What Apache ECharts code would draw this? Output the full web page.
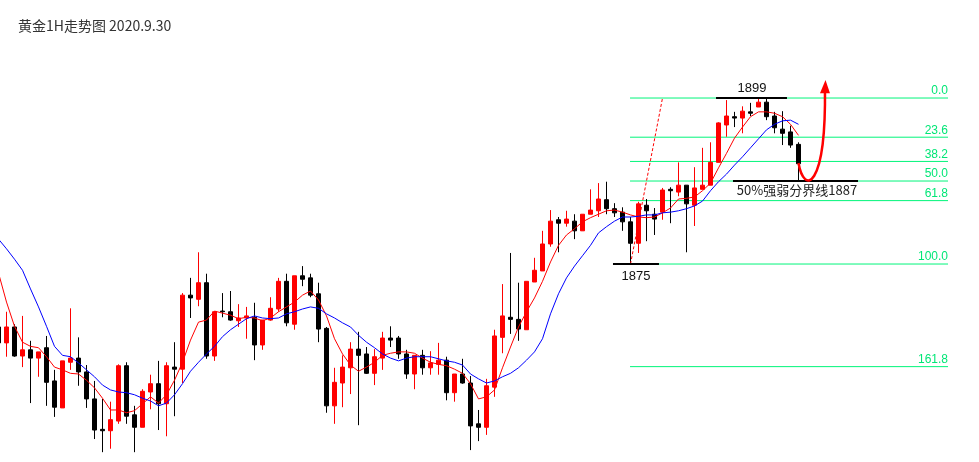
<!DOCTYPE html>
<html><head><meta charset="utf-8">
<script src="https://cdn.jsdelivr.net/npm/echarts@6/dist/echarts.min.js"></script>
<style>html,body{margin:0;padding:0;background:#fff}#c{width:979px;height:462px}</style>
</head><body><div id="c"></div>
<script>
// ---- Data (gold 1H) ----
const opens = [1865.9,1863.6,1865.9,1861.7,1862.6,1861.4,1862.9,1858.1,1854.2,1860.8,
1861.4,1859.4,1855.5,1851.1,1850.9,1852.3,1860.3,1853.2,1851.4,1856.5,
1857.7,1854.8,1860.1,1859.8,1870.5,1869.9,1872.3,1861.7,1868.2,1868.1,
1866.8,1867.2,1867.3,1863.3,1866.9,1868.5,1872.5,1866.3,1873.3,1873.0,
1870.7,1865.7,1854.5,1857.8,1860.0,1862.7,1862.0,1859.2,1861.4,1864.3,
1864.3,1862.0,1859.1,1861.8,1860.0,1860.5,1861.1,1856.4,1859.1,1857.8,
1851.9,1851.4,1857.2,1864.4,1867.3,1867.0,1865.5,1872.4,1874.0,1877.9,
1881.4,1880.9,1881.2,1879.8,1882.2,1882.7,1884.3,1883.0,1882.5,1881.1,
1878.0,1883.5,1882.2,1882.5,1885.8,1885.4,1886.4,1883.5,1885.8,1886.4,
1889.7,1895.1,1896.3,1896.1,1897.0,1897.7,1898.4,1896.4,1894.5,1894.1,
1892.3];
const closes = [1863.6,1865.9,1861.7,1862.6,1861.4,1862.3,1857.9,1854.3,1861.0,1861.4,
1859.4,1855.5,1851.0,1850.9,1852.5,1860.3,1853.0,1851.4,1856.6,1857.7,
1854.8,1860.3,1859.8,1870.5,1870.1,1872.3,1861.7,1868.1,1868.1,1866.9,
1867.2,1867.5,1863.3,1866.9,1868.6,1872.5,1866.5,1873.3,1872.8,1870.5,
1865.6,1854.5,1857.9,1860.1,1862.7,1861.8,1859.2,1861.6,1864.3,1864.0,
1862.0,1859.1,1861.8,1860.0,1860.7,1861.1,1856.4,1859.1,1857.8,1851.6,
1851.4,1857.4,1864.6,1867.5,1867.0,1865.6,1872.5,1874.1,1877.9,1881.2,
1880.9,1881.5,1879.8,1882.2,1882.8,1884.4,1883.0,1882.4,1881.1,1878.0,
1883.7,1882.7,1881.5,1885.7,1885.6,1886.4,1883.7,1886.0,1886.4,1889.7,
1895.4,1896.4,1896.1,1897.1,1896.8,1898.4,1896.3,1894.7,1893.9,1892.2,
1889.5];
const lows = [1863.6,1861.6,1861.6,1860.1,1854.9,1858.7,1854.5,1852.9,1854.2,1859.7,
1857.4,1854.2,1849.7,1847.8,1848.3,1851.9,1851.9,1847.8,1851.4,1854.0,
1851.0,1850.1,1853.0,1857.8,1867.2,1868.9,1861.3,1861.0,1867.3,1866.8,
1865.9,1864.2,1861.1,1862.6,1866.8,1868.1,1866.0,1865.5,1871.8,1870.2,
1863.7,1853.5,1851.9,1854.3,1856.2,1851.7,1859.1,1857.5,1859.7,1863.0,
1861.3,1858.4,1856.9,1859.0,1859.0,1859.0,1855.3,1855.1,1857.7,1848.1,
1849.4,1850.3,1855.8,1862.1,1864.9,1863.9,1865.5,1872.4,1874.0,1877.5,
1876.7,1880.4,1878.6,1879.8,1882.2,1881.8,1882.2,1881.8,1879.8,1875.0,
1876.6,1878.3,1879.2,1881.4,1880.9,1884.8,1876.7,1880.5,1885.8,1886.4,
1889.7,1893.4,1894.8,1893.9,1896.4,1897.7,1895.8,1893.9,1892.2,1891.8,
1887.1];
const highs = [1865.9,1868.1,1866.3,1867.5,1863.9,1862.3,1864.6,1859.7,1861.0,1868.6,
1864.4,1860.4,1858.1,1855.5,1855.1,1860.5,1860.8,1854.5,1856.9,1859.0,
1861.0,1860.8,1863.7,1870.8,1873.0,1876.7,1873.6,1868.2,1870.8,1871.1,
1869.2,1868.8,1869.4,1866.9,1870.2,1873.0,1873.6,1873.3,1874.7,1873.6,
1872.3,1865.9,1860.0,1861.8,1863.7,1865.2,1863.0,1862.7,1865.2,1866.0,
1864.6,1862.6,1861.8,1862.6,1862.4,1863.6,1861.6,1859.1,1861.3,1858.8,
1853.9,1858.4,1865.5,1872.1,1876.6,1872.3,1872.5,1875.9,1879.8,1882.8,
1881.8,1882.7,1882.2,1882.2,1885.8,1886.7,1886.9,1883.8,1883.2,1881.8,
1884.0,1884.4,1883.1,1886.0,1886.1,1889.7,1886.4,1889.0,1891.8,1892.6,
1895.5,1898.7,1897.0,1897.8,1898.3,1898.9,1898.9,1897.0,1897.1,1895.0,
1892.6];
const maFast = [1873.7,1869.5,1866.0,1863.7,1863.1,1862.9,1861.6,1860.1,1859.7,1859.2,
1859.1,1858.2,1857.1,1855.6,1853.9,1853.9,1853.5,1853.8,1854.8,1855.8,
1854.9,1856.1,1858.2,1860.8,1864.0,1866.6,1866.9,1868.2,1867.9,1867.6,
1867.1,1867.3,1867.2,1866.8,1867.2,1868.1,1868.8,1869.5,1870.5,1871.1,
1869.8,1867.5,1864.2,1862.0,1860.4,1859.5,1860.1,1860.8,1861.8,1862.1,
1862.3,1862.3,1862.1,1861.4,1860.8,1860.5,1860.3,1859.8,1859.2,1857.7,
1855.5,1855.8,1856.8,1860.0,1863.0,1865.9,1868.1,1870.1,1872.5,1875.3,
1877.7,1879.2,1880.1,1881.1,1881.7,1882.2,1882.7,1882.8,1882.5,1882.1,
1881.8,1881.7,1881.8,1882.4,1883.1,1884.4,1884.5,1884.7,1885.6,1886.7,
1888.9,1891.0,1893.2,1894.8,1896.3,1897.0,1897.0,1896.8,1896.3,1895.2,
1893.6];
const maSlow = [1878.6,1877.2,1875.7,1874.1,1871.4,1868.8,1866.0,1863.1,1861.8,1861.6,
1860.7,1859.7,1858.7,1857.5,1856.8,1856.5,1856.4,1856.1,1855.6,1855.2,
1854.5,1854.9,1856.1,1857.7,1859.5,1860.8,1862.0,1863.1,1864.5,1865.5,
1866.3,1867.1,1867.5,1867.2,1867.1,1867.2,1867.8,1868.1,1868.5,1868.8,
1868.6,1867.8,1867.2,1866.5,1865.9,1864.7,1863.7,1862.9,1862.0,1861.4,
1861.0,1861.4,1861.6,1861.6,1861.6,1861.3,1861.0,1860.8,1860.4,1859.1,
1858.4,1857.8,1858.1,1858.7,1859.2,1860.0,1861.1,1862.3,1864.2,1867.8,
1870.7,1873.0,1874.7,1876.2,1877.7,1879.5,1880.4,1881.2,1881.8,1881.8,
1881.9,1882.1,1882.1,1882.4,1882.5,1882.7,1883.0,1883.4,1884.1,1885.6,
1886.9,1888.0,1889.3,1890.5,1891.8,1893.1,1894.4,1895.2,1895.7,1895.8,
1895.2];
const swingHigh = 1899;
const swingLow = 1875;
const fibRatios = [0, 23.6, 38.2, 50, 61.8, 100, 161.8];
const fibLabels = ['0.0','23.6','38.2','50.0','61.8','100.0','161.8'];
const titleText = '黄金1H走势图 2020.9.30';
const noteHigh = '1899';
const noteLow = '1875';
const noteMid = '50%强弱分界线1887';

const totalSlots = 123;
const categories = [];
for (let i = 0; i < totalSlots; i++) categories.push('K' + (i + 1));
const kData = opens.map((o, i) => [o, closes[i], lows[i], highs[i]]);
const fibPrice = r => swingHigh - (swingHigh - swingLow) * r / 100;

const chart = echarts.init(document.getElementById('c'), null, {renderer: 'canvas'});

const series = [];
fibRatios.forEach(r => {
  series.push({type: 'line', xAxisIndex: 1, yAxisIndex: 0, z: 1, silent: true,
    symbol: 'none', lineStyle: {color: '#00f57a', width: 1},
    data: [[78.94, fibPrice(r)], [118.69, fibPrice(r)]]});
});
series.push({type: 'candlestick', xAxisIndex: 0, yAxisIndex: 0, z: 2, barWidth: 5,
  data: kData,
  itemStyle: {color: '#ff0000', color0: '#000000', borderColor: '#ff0000', borderColor0: '#000000', borderColorDoji: '#000000', borderWidth: 1}
});
series.push({type: 'line', xAxisIndex: 0, z: 3, symbol: 'none', data: maFast, lineStyle: {color: '#ff0000', width: 1}});
series.push({type: 'line', xAxisIndex: 0, z: 3, symbol: 'none', data: maSlow, lineStyle: {color: '#0000ff', width: 1}});
// projection dashed line
series.push({type: 'line', xAxisIndex: 1, z: 3, symbol: 'none', lineStyle: {color: '#ff0000', width: 1, type: [3, 2]},
  data: [[79, swingLow], [83, swingHigh]]});
// black level markers
series.push({type: 'line', xAxisIndex: 1, z: 4, symbol: 'none', lineStyle: {color: '#000', width: 2}, data: [[89.69, swingHigh], [98.56, swingHigh]]});
series.push({type: 'line', xAxisIndex: 1, z: 4, symbol: 'none', lineStyle: {color: '#000', width: 2}, data: [[76.81, swingLow], [82.56, swingLow]]});
series.push({type: 'line', xAxisIndex: 1, z: 4, symbol: 'none', lineStyle: {color: '#000', width: 2}, data: [[91.81, fibPrice(50)], [107.44, fibPrice(50)]]});

chart.setOption({
  animation: false,
  backgroundColor: '#fff',
  title: {text: titleText, left: 13, top: 14, textStyle: {fontSize: 14, fontWeight: 'normal', color: '#333', fontFamily: 'Noto Sans CJK SC'}},
  grid: {left: -5.5, top: 0, width: 984, height: 462, containLabel: false, outerBoundsMode: 'none'},
  xAxis: [
    {type: 'category', data: categories, show: false, boundaryGap: true},
    {type: 'value', min: -0.5, max: 122.5, show: false}
  ],
  yAxis: {type: 'value', min: 1846.38, max: 1913.17, show: false, splitLine: {show: false}},
  series: series
});

const px = (v, p) => chart.convertToPixel({xAxisIndex: 1, yAxisIndex: 0}, [v, p]);
const g = [];
fibRatios.forEach((r, i) => {
  const pt = px(118.69, fibPrice(r));
  g.push({type: 'text', z: 10, style: {text: fibLabels[i], x: pt[0], y: pt[1] - 1, align: 'right', verticalAlign: 'bottom',
    fill: '#00e676', font: '12px "Liberation Sans", Arial, sans-serif'}});
});
let p = px(94.19, 1900.45);
g.push({type: 'text', z: 10, style: {text: noteHigh, x: p[0], y: p[1], align: 'center', verticalAlign: 'middle', fill: '#111', font: '13px "Liberation Sans", Arial, sans-serif'}});
p = px(79.69, 1873.27);
g.push({type: 'text', z: 10, style: {text: noteLow, x: p[0], y: p[1], align: 'center', verticalAlign: 'middle', fill: '#111', font: '13px "Liberation Sans", Arial, sans-serif'}});
p = px(99.81, 1885.7);
g.push({type: 'text', z: 10, style: {text: noteMid, x: p[0], y: p[1], align: 'center', verticalAlign: 'middle', fill: '#222', font: '13px "Noto Sans CJK SC", sans-serif'}});
// red arrow
const a0 = px(100, 1889.6), a1 = px(100.69, 1885.0), a2 = px(103.44, 1885.7), a3 = px(103.31, 1900.4);
g.push({type: 'bezierCurve', z: 10, shape: {x1: a0[0], y1: a0[1], cpx1: a1[0], cpy1: a1[1], cpx2: a2[0], cpy2: a2[1], x2: a3[0], y2: a3[1]},
  style: {stroke: '#ff0000', lineWidth: 2.5, fill: null}});
const tip = px(103.375, 1901.6), base = px(103.31, 1899.7);
g.push({type: 'polygon', z: 10, shape: {points: [[tip[0], tip[1]], [base[0] - 5, base[1]], [base[0] + 5, base[1]]]}, style: {fill: '#ff0000'}});
chart.setOption({graphic: g});
</script>
</body></html>
